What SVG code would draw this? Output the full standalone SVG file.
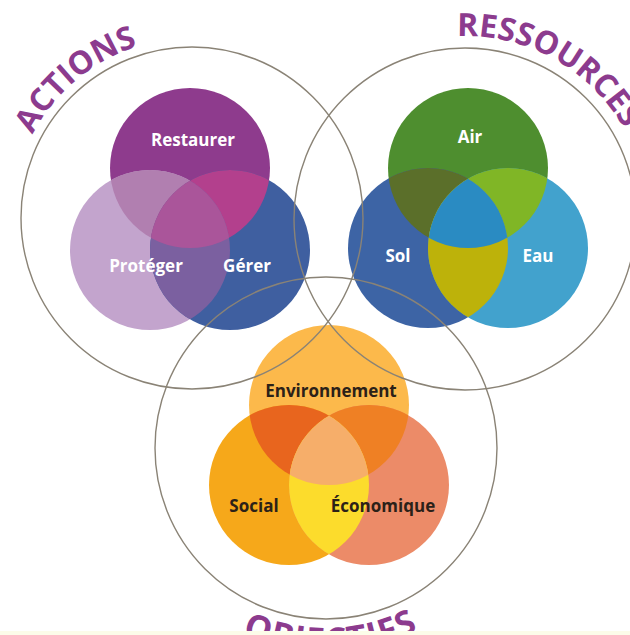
<svg xmlns="http://www.w3.org/2000/svg" xmlns:xlink="http://www.w3.org/1999/xlink" width="630" height="635" viewBox="0 0 630 635">
<style>
.ring{fill:none;stroke:#8a8376;stroke-width:1.4}
.title{font-family:"Open Sans","Liberation Sans",sans-serif;font-weight:700;font-size:32px;fill:#8c3b8e}
.lw{font-family:"Open Sans","Liberation Sans",sans-serif;font-weight:700;font-size:17px;fill:#ffffff;text-anchor:middle}
.ld{font-family:"Open Sans","Liberation Sans",sans-serif;font-weight:700;font-size:17px;fill:#2b2118;text-anchor:middle}
</style>
<defs>
<clipPath id="cR"><circle cx="190" cy="168" r="80"/></clipPath>
<clipPath id="cP"><circle cx="150" cy="250" r="80"/></clipPath>
<clipPath id="cG"><circle cx="230" cy="250" r="80"/></clipPath>
<clipPath id="cA"><circle cx="468" cy="168" r="80"/></clipPath>
<clipPath id="cS"><circle cx="428" cy="248" r="80"/></clipPath>
<clipPath id="cE"><circle cx="508" cy="248" r="80"/></clipPath>
<clipPath id="cV"><circle cx="329" cy="405" r="80"/></clipPath>
<clipPath id="cSo"><circle cx="289" cy="485" r="80"/></clipPath>
<clipPath id="cEc"><circle cx="369" cy="485" r="80"/></clipPath>
<path id="pAct" d="M 12.7 202.3 A 180 180 0 0 1 207.7 38.7"/>
<path id="pRes" d="M 414.6 43.1 A 183 183 0 0 1 640.9 168.6"/>
<path id="pObj" d="M 187.9 598.2 A 204 204 0 0 0 476.2 586.1"/>
</defs>
<rect width="630" height="635" fill="#ffffff"/>

<!-- ACTIONS -->
<g id="restaurer">
<circle cx="190" cy="168" r="80" fill="#8e3b8d"/>
</g>
<g id="proteger">
<circle cx="150" cy="250" r="80" fill="#c3a4cd"/>
</g>
<g id="gerer">
<circle cx="230" cy="250" r="80" fill="#3f5fa0"/>
</g>
<g id="actions-overlaps">
<circle cx="150" cy="250" r="80" fill="#b17fb0" clip-path="url(#cR)"/>
<circle cx="230" cy="250" r="80" fill="#b3408d" clip-path="url(#cR)"/>
<circle cx="230" cy="250" r="80" fill="#7b60a0" clip-path="url(#cP)"/>
<g clip-path="url(#cR)"><circle cx="230" cy="250" r="80" fill="#aa559a" clip-path="url(#cP)"/></g>
</g>

<!-- RESSOURCES -->
<g id="air">
<circle cx="468" cy="168" r="80" fill="#4e8e2f"/>
</g>
<g id="sol">
<circle cx="428" cy="248" r="80" fill="#3d64a5"/>
</g>
<g id="eau">
<circle cx="508" cy="248" r="80" fill="#42a2cd"/>
</g>
<g id="ressources-overlaps">
<circle cx="428" cy="248" r="80" fill="#5b6f2a" clip-path="url(#cA)"/>
<circle cx="508" cy="248" r="80" fill="#80b626" clip-path="url(#cA)"/>
<circle cx="508" cy="248" r="80" fill="#bdb20a" clip-path="url(#cS)"/>
<g clip-path="url(#cA)"><circle cx="508" cy="248" r="80" fill="#2a8bc2" clip-path="url(#cS)"/></g>
</g>

<!-- OBJECTIFS -->
<g id="environnement">
<circle cx="329" cy="405" r="80" fill="#fcb94b"/>
</g>
<g id="social">
<circle cx="289" cy="485" r="80" fill="#f6a81a"/>
</g>
<g id="economique">
<circle cx="369" cy="485" r="80" fill="#ec8b68"/>
</g>
<g id="objectifs-overlaps">
<circle cx="289" cy="485" r="80" fill="#e8651e" clip-path="url(#cV)"/>
<circle cx="369" cy="485" r="80" fill="#ef8024" clip-path="url(#cV)"/>
<circle cx="369" cy="485" r="80" fill="#fcdc2c" clip-path="url(#cSo)"/>
<g clip-path="url(#cV)"><circle cx="369" cy="485" r="80" fill="#f6ae6a" clip-path="url(#cSo)"/></g>
</g>

<!-- big rings -->
<g id="rings">
<circle id="ring-actions" class="ring" cx="192" cy="218" r="171"/>
<circle id="ring-ressources" class="ring" cx="465" cy="219" r="171"/>
<circle id="ring-objectifs" class="ring" cx="326" cy="448" r="171"/>
</g>

<!-- labels -->
<g id="labels">
<text class="lw" x="193" y="146">Restaurer</text>
<text class="lw" x="146" y="272">Protéger</text>
<text class="lw" x="247" y="272">Gérer</text>
<text class="lw" x="470" y="143">Air</text>
<text class="lw" x="398" y="262">Sol</text>
<text class="lw" x="538" y="262">Eau</text>
<text class="ld" x="331" y="397">Environnement</text>
<text class="ld" x="254" y="512">Social</text>
<text class="ld" x="383" y="512">Économique</text>
</g>

<g id="titles">
<text class="title" text-anchor="middle"><textPath xlink:href="#pAct" startOffset="50%">ACTIONS</textPath></text>
<text class="title" text-anchor="middle"><textPath xlink:href="#pRes" startOffset="50%">RESSOURCES</textPath></text>
<text class="title" text-anchor="middle" style="font-size:34px;letter-spacing:1.5px"><textPath xlink:href="#pObj" startOffset="49%">OBJECTIFS</textPath></text>
</g>
<rect x="0" y="631" width="630" height="4" fill="#fcfce9"/>
</svg>
